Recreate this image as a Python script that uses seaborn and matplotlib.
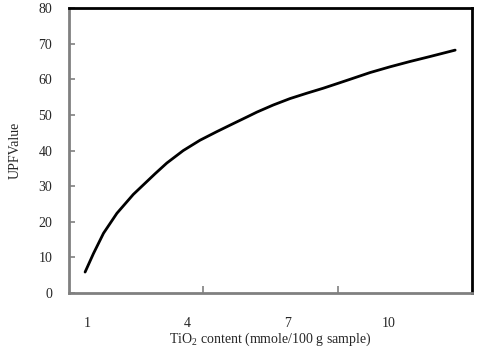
import matplotlib
matplotlib.use("Agg")
import matplotlib.pyplot as plt
import seaborn as sns
import pandas as pd

# values
tio2 = [0.94, 1.19, 1.49, 1.89, 2.38, 3.03, 3.38, 3.87, 4.37, 4.87,
        5.37, 5.81, 6.07, 6.56, 7.06, 7.56, 8.05, 8.50, 8.85, 9.45,
        10.04, 10.64, 11.24, 11.99]
upf = [5.9, 11.1, 16.8, 22.4, 27.7, 33.5, 36.5, 40.0, 42.9, 45.3,
       47.6, 49.6, 50.8, 52.8, 54.6, 56.1, 57.5, 58.9, 60.0, 61.9,
       63.5, 65.0, 66.4, 68.2]

x_labels = [1, 4, 7, 10]
x_marks = [4.46, 8.49]
y_ticks = [0, 10, 20, 30, 40, 50, 60, 70, 80]

df = pd.DataFrame({"TiO2": tio2, "UPF": upf})

sns.set_style("white")
plt.rcParams["font.family"] = ["Liberation Serif", "DejaVu Serif"]
plt.rcParams["mathtext.fontset"] = "custom"
plt.rcParams["mathtext.rm"] = "Liberation Serif"

fig = plt.figure(figsize=(4.86, 3.51), dpi=100)
ax = fig.add_axes([0.142, 0.165, 0.829, 0.812])

sns.lineplot(data=df, x="TiO2", y="UPF", color="black", linewidth=2.0, ax=ax)

ax.set_xlim(0.46, 12.49)
ax.set_ylim(0, 80)
ax.set_yticks(y_ticks)
ax.set_xticks(x_labels)
ax.set_xticklabels([str(v) for v in x_labels])
ax.set_xticks(x_marks, minor=True)

ax.tick_params(axis="y", direction="in", length=4, width=1.2, color="#808080",
               labelsize=10, pad=12, left=True)
ax.tick_params(axis="x", which="major", length=0, labelsize=10, pad=17, bottom=True)
ax.tick_params(axis="x", which="minor", direction="in", length=5, width=1.2,
               color="#808080", bottom=True)

for side in ["left", "bottom"]:
    ax.spines[side].set_color("#808080")
    ax.spines[side].set_linewidth(2)
for side in ["top", "right"]:
    ax.spines[side].set_color("black")
    ax.spines[side].set_linewidth(2)

ax.set_xlabel("TiO$_\\mathrm{2}$ content (mmole/100 g sample)", fontsize=10, labelpad=1)
ax.set_ylabel("UPFValue", fontsize=10, labelpad=12)

fig.savefig("out.png", dpi=100)
